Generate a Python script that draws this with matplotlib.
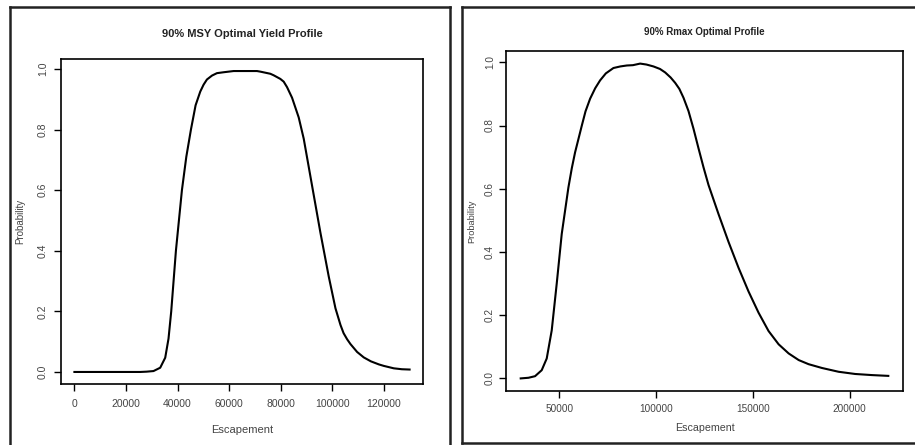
import numpy as np
import matplotlib
matplotlib.use("Agg")
from matplotlib import pyplot as plt
from matplotlib.lines import Line2D

plt.rcParams['font.family'] = ['Liberation Sans', 'DejaVu Sans']

# left panel: 90% MSY optimal yield profile
msy_escapement = [0, 10000, 20000, 25500, 28000, 30680, 33280, 35220, 36500, 37550,
                  39370, 41700, 43400, 45200, 47000, 48803, 50100, 51392, 53360,
                  55275, 57870, 61748, 64350, 70809, 72120, 75987, 77280, 79871,
                  81170, 82460, 84410, 86990, 88932, 90500, 92168, 95405, 98641,
                  101250, 103200, 104400, 105761, 107070, 109644, 112230, 115000,
                  118060, 120000, 123883, 127000, 130000]
msy_prob = [0.0, 0.0, 0.0, 0.0, 0.001, 0.003, 0.014, 0.047, 0.11, 0.2,
            0.4, 0.6, 0.71, 0.8, 0.88, 0.925, 0.948, 0.965, 0.978,
            0.986, 0.989, 0.993, 0.993, 0.993, 0.991, 0.984, 0.979, 0.967,
            0.958, 0.94, 0.905, 0.84, 0.77, 0.695, 0.615, 0.46, 0.315,
            0.21, 0.155, 0.128, 0.108, 0.092, 0.066, 0.048, 0.035,
            0.025, 0.02, 0.012, 0.009, 0.008]

# right panel: 90% Rmax optimal profile
rmax_escapement = [30000, 34000, 37414, 40862, 43450, 46035, 48620, 51207, 54655,
                   56410, 58100, 61590, 63500, 65880, 68500, 71050, 74000, 77930,
                   81500, 84860, 88000, 91740, 95000, 98620, 102000, 104670, 107500,
                   109850, 112000, 114140, 116720, 119310, 121900, 124480, 127070,
                   132240, 137410, 142590, 147760, 152930, 158100, 163300, 168500,
                   173700, 178800, 185700, 194300, 202900, 211550, 220000]
rmax_prob = [0.0, 0.002, 0.007, 0.026, 0.063, 0.152, 0.300, 0.457, 0.604,
             0.665, 0.715, 0.80, 0.845, 0.885, 0.918, 0.943, 0.965, 0.982,
             0.987, 0.990, 0.991, 0.996, 0.993, 0.987, 0.979, 0.968, 0.952,
             0.935, 0.916, 0.888, 0.846, 0.79, 0.728, 0.668, 0.612,
             0.52, 0.432, 0.35, 0.275, 0.208, 0.150, 0.108, 0.079,
             0.058, 0.045, 0.033, 0.021, 0.014, 0.0105, 0.008]

msy_xticks = [0, 20000, 40000, 60000, 80000, 100000, 120000]
rmax_xticks = [50000, 100000, 150000, 200000]
prob_ticks = [0.0, 0.2, 0.4, 0.6, 0.8, 1.0]

W, H = 915, 445


def px_rect(x0, y0, x1, y1):
    # pixel box (top-left origin) -> figure fraction rect
    return [x0 / W, 1 - y1 / H, (x1 - x0) / W, (y1 - y0) / H]


def style_axes(ax, xticks, title, title_size, tick_size, xpad, ypad,
               xlabelpad, ylabelpad, title_pad):
    ax.margins(x=0.04, y=0.04)
    ax.set_xticks(xticks)
    ax.set_xticklabels([str(t) for t in xticks])
    ax.set_yticks(prob_ticks)
    ax.set_yticklabels(['%.1f' % t for t in prob_ticks], rotation=90, va='center')
    ax.tick_params(direction='out', length=5, width=1, colors='black',
                   labelsize=tick_size, labelcolor='#444444')
    ax.tick_params(axis='x', pad=xpad)
    ax.tick_params(axis='y', pad=ypad)
    for s in ax.spines.values():
        s.set_linewidth(1.2)
    ax.set_xlabel('Escapement', fontsize=tick_size + 0.5, color='#444444',
                  labelpad=xlabelpad)
    ax.set_ylabel('Probability', fontsize=tick_size - 0.5, color='#444444',
                  labelpad=ylabelpad)
    ax.set_title(title, fontsize=title_size, fontweight='bold', color='#222222',
                 pad=title_pad)


fig = plt.figure(figsize=(W / 100, H / 100), dpi=100)

ax1 = fig.add_axes(px_rect(61, 59, 423, 384))
ax1.plot(msy_escapement, msy_prob, color='black', lw=1.5)
style_axes(ax1, msy_xticks, '90% MSY Optimal Yield Profile', 8, 7.5,
           xpad=6, ypad=4.5, xlabelpad=11, ylabelpad=9, title_pad=16)

ax2 = fig.add_axes(px_rect(506, 51, 903, 391))
ax2.plot(rmax_escapement, rmax_prob, color='black', lw=1.5)
style_axes(ax2, rmax_xticks, '90% Rmax Optimal Profile', 7, 7.2,
           xpad=4, ypad=3, xlabelpad=7, ylabelpad=6, title_pad=11.5)

# outer frames around each panel
frame_lines = [
    [(10, 7), (10, 445)], [(10, 7), (450, 7)], [(450, 7), (450, 445)],
    [(461.5, 7), (461.5, 443)], [(461.5, 7), (915, 7)], [(461.5, 443), (915, 443)],
]
for (xa, ya), (xb, yb) in frame_lines:
    fig.add_artist(Line2D([xa / W, xb / W], [1 - ya / H, 1 - yb / H],
                          color='#222222', lw=1.8))

fig.savefig('out.png', dpi=100)
